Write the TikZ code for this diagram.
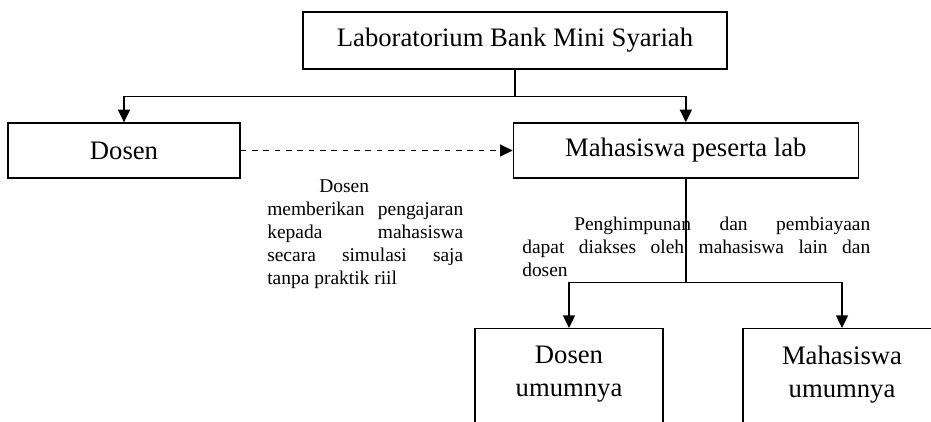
\documentclass[tikz,border=0pt]{standalone}
\usepackage{fontspec}
\setmainfont{Liberation Serif}
\usetikzlibrary{positioning,arrows.meta}
\tikzstyle{unit}=[draw,line width=1pt,inner sep=0pt,minimum height=41.25pt,font=\fontsize{20}{24.75}\selectfont]
\tikzstyle{subunit}=[draw,line width=1pt,anchor=north,align=center,minimum width=141pt,inner sep=13pt,text depth=40pt,font=\fontsize{20}{24.75}\selectfont]
\tikzstyle{note}=[anchor=north west,align=left,inner sep=0pt,font=\fontsize{14.6}{17.25}\selectfont]
\tikzstyle{link}=[line width=1pt]
\tikzstyle{arr}=[link,-{Triangle[length=9.5pt,width=9pt]}]
\tikzstyle{darr}=[arr,dash pattern=on 4.3pt off 4.2pt]

\begin{document}
\begin{tikzpicture}[x=0.75pt,y=-0.75pt]
      \useasboundingbox (0,0) rectangle (931,421);
      \clip (0,0) rectangle (931,421);

      \node (lab) [unit,minimum width=318pt,minimum height=42.75pt] at (515,40.5) {Laboratorium Bank Mini Syariah};
      \node (dosen) [unit,minimum width=174pt] at (124,150.5) {Dosen};
      \node (mhs) [unit,minimum width=258.75pt,right=204pt of dosen] {Mahasiswa peserta lab};
      \node (dosenU) [subunit] at (569,328) {Dosen\\umumnya};
      \node (mhsU) [subunit,minimum width=148.5pt] at (842,328) {Mahasiswa\\umumnya};

      \node (note1) [note] at (267,179) {\hspace*{39pt}Dosen\\
        \makebox[147pt][s]{memberikan pengajaran}\\
        \makebox[147pt][s]{kepada mahasiswa}\\
        \makebox[147pt][s]{secara simulasi saja}\\
        tanpa praktik riil};
      \node (note2) [note] at (522,217) {\makebox[261pt][s]{\hspace*{39pt}Penghimpunan dan pembiayaan}\\
        \makebox[261pt][s]{dapat diakses oleh mahasiswa lain dan}\\
        dosen};

      \draw[link] (lab.south) -- ++(0,27) coordinate (fork);
      \draw[arr] (fork) -| (dosen.north);
      \draw[arr] (fork) -| (mhs.north);
      \draw[darr] (dosen.east) -- (mhs.west);

      \draw[link] (mhs.south) -- ++(0,104) coordinate (fork2);
      \draw[arr] (fork2) -| (dosenU.north);
      \draw[arr] (fork2) -| (mhsU.north);
    \end{tikzpicture}
\end{document}
